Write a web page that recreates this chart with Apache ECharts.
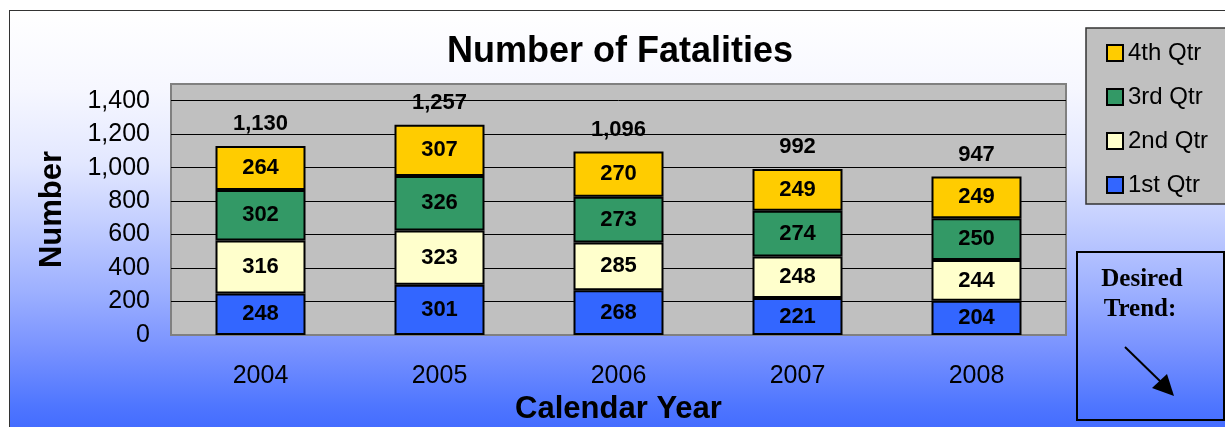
<!DOCTYPE html>
<html>
<head>
<meta charset="utf-8">
<script src="https://cdn.jsdelivr.net/npm/echarts@6/dist/echarts.min.js"></script>
<style>
html,body{margin:0;padding:0;background:#fff;width:1225px;height:427px;overflow:hidden;}
#frame{position:absolute;left:9px;top:10px;width:1240px;height:440px;box-sizing:border-box;border:1.5px solid #333;
background:linear-gradient(to bottom,#ffffff 0%,#f6f7ff 18%,#e2e7ff 35%,#c4cfff 48%,#9db0ff 64%,#7690ff 78%,#4f76ff 90%,#3a63ff 100%);}
#chart{position:absolute;left:0;top:0;width:1225px;height:427px;}
</style>
</head>
<body>
<div id="frame"></div>
<div id="chart"></div>
<script>
const categories = ['2004', '2005', '2006', '2007', '2008'];
const q1 = [248, 301, 268, 221, 204];
const q2 = [316, 323, 285, 248, 244];
const q3 = [302, 326, 273, 274, 250];
const q4 = [264, 307, 270, 249, 249];
const seriesNames = ['1st Qtr', '2nd Qtr', '3rd Qtr', '4th Qtr'];
const seriesColors = ['#3366FF', '#FFFFCC', '#339966', '#FFCC00'];
const yTicks = [0, 200, 400, 600, 800, 1000, 1200, 1400];

const totals = categories.map((c, i) => q1[i] + q2[i] + q3[i] + q4[i]);
const fmt = v => Number(v).toLocaleString('en-US');
const FONT = 'Arial, "Liberation Sans", sans-serif';

const chart = echarts.init(document.getElementById('chart'), null, {renderer: 'canvas'});

const barSeries = [q1, q2, q3, q4].map((d, i) => ({
  name: seriesNames[i],
  type: 'bar',
  stack: 'total',
  barWidth: 90,
  data: d,
  itemStyle: {color: seriesColors[i], borderColor: '#000', borderWidth: 2},
  label: {show: true, position: 'inside', color: '#000', fontWeight: 'bold', fontSize: 22, fontFamily: FONT},
  emphasis: {disabled: true}
}));

const option = {
  animation: false,
  title: {
    text: 'Number of Fatalities',
    left: 447, top: 34, padding: 0,
    textStyle: {fontSize: 36, fontWeight: 'bold', color: '#000', fontFamily: FONT}
  },
  legend: {
    orient: 'vertical',
    left: 1101, top: 36,
    icon: 'rect',
    itemWidth: 16, itemHeight: 16, itemGap: 20,
    data: ['4th Qtr', '3rd Qtr', '2nd Qtr', '1st Qtr'],
    textStyle: {fontSize: 24, color: '#000', fontFamily: FONT},
    selectedMode: false
  },
  grid: {
    left: 171, right: 159, top: 84, bottom: 92,
    show: true, backgroundColor: '#c0c0c0', borderColor: '#808080', borderWidth: 2,
    outerBoundsMode: 'none', containLabel: false
  },
  xAxis: {
    type: 'category',
    data: categories,
    axisLine: {show: false},
    axisTick: {show: false},
    axisLabel: {fontSize: 25, color: '#000', margin: 29, fontFamily: FONT},
    name: 'Calendar Year',
    nameLocation: 'middle',
    nameGap: 56,
    nameTextStyle: {fontSize: 31, fontWeight: 'bold', color: '#000', fontFamily: FONT}
  },
  yAxis: {
    type: 'value',
    min: 0, max: 1500, interval: 200,
    axisLine: {show: false},
    axisTick: {show: false},
    splitLine: {show: true, showMinLine: false, showMaxLine: false, lineStyle: {color: '#000', width: 1}},
    axisLabel: {
      fontSize: 25, color: '#000', margin: 21, fontFamily: FONT,
      formatter: v => (yTicks.indexOf(v) >= 0 ? fmt(v) : '')
    },
    name: 'Number',
    nameLocation: 'middle',
    nameGap: 103,
    nameTextStyle: {fontSize: 31, fontWeight: 'bold', color: '#000', fontFamily: FONT}
  },
  series: barSeries.concat([{
    name: 'Total',
    type: 'scatter',
    data: totals,
    symbolSize: 0,
    itemStyle: {color: '#000', opacity: 1},
    label: {
      show: true, position: 'top', distance: 11, opacity: 1,
      color: '#000', fontWeight: 'bold', fontSize: 22, fontFamily: FONT,
      formatter: p => fmt(p.value)
    },
    emphasis: {disabled: true},
    z: 5
  }]),
  graphic: [
    {type: 'rect', z: 0, shape: {x: 1086, y: 28, width: 200, height: 176},
     style: {fill: '#c0c0c0', stroke: '#333', lineWidth: 1.5}},
    {type: 'rect', z: 0, shape: {x: 1077, y: 252, width: 147, height: 168},
     style: {fill: 'none', stroke: '#000', lineWidth: 2}},
    {type: 'text', z: 1, style: {x: 1142, y: 280, text: 'Desired', align: 'center', verticalAlign: 'middle',
      font: 'bold 25px "Times New Roman", "Liberation Serif", serif', fill: '#000'}},
    {type: 'text', z: 1, style: {x: 1140, y: 310, text: 'Trend:', align: 'center', verticalAlign: 'middle',
      font: 'bold 25px "Times New Roman", "Liberation Serif", serif', fill: '#000'}},
    {type: 'line', z: 1, shape: {x1: 1125, y1: 347, x2: 1162, y2: 383},
     style: {stroke: '#000', lineWidth: 2}},
    {type: 'polygon', z: 1, shape: {points: [[1174, 396], [1152, 388], [1167, 374]]},
     style: {fill: '#000'}}
  ]
};
chart.setOption(option);
</script>
</body>
</html>
